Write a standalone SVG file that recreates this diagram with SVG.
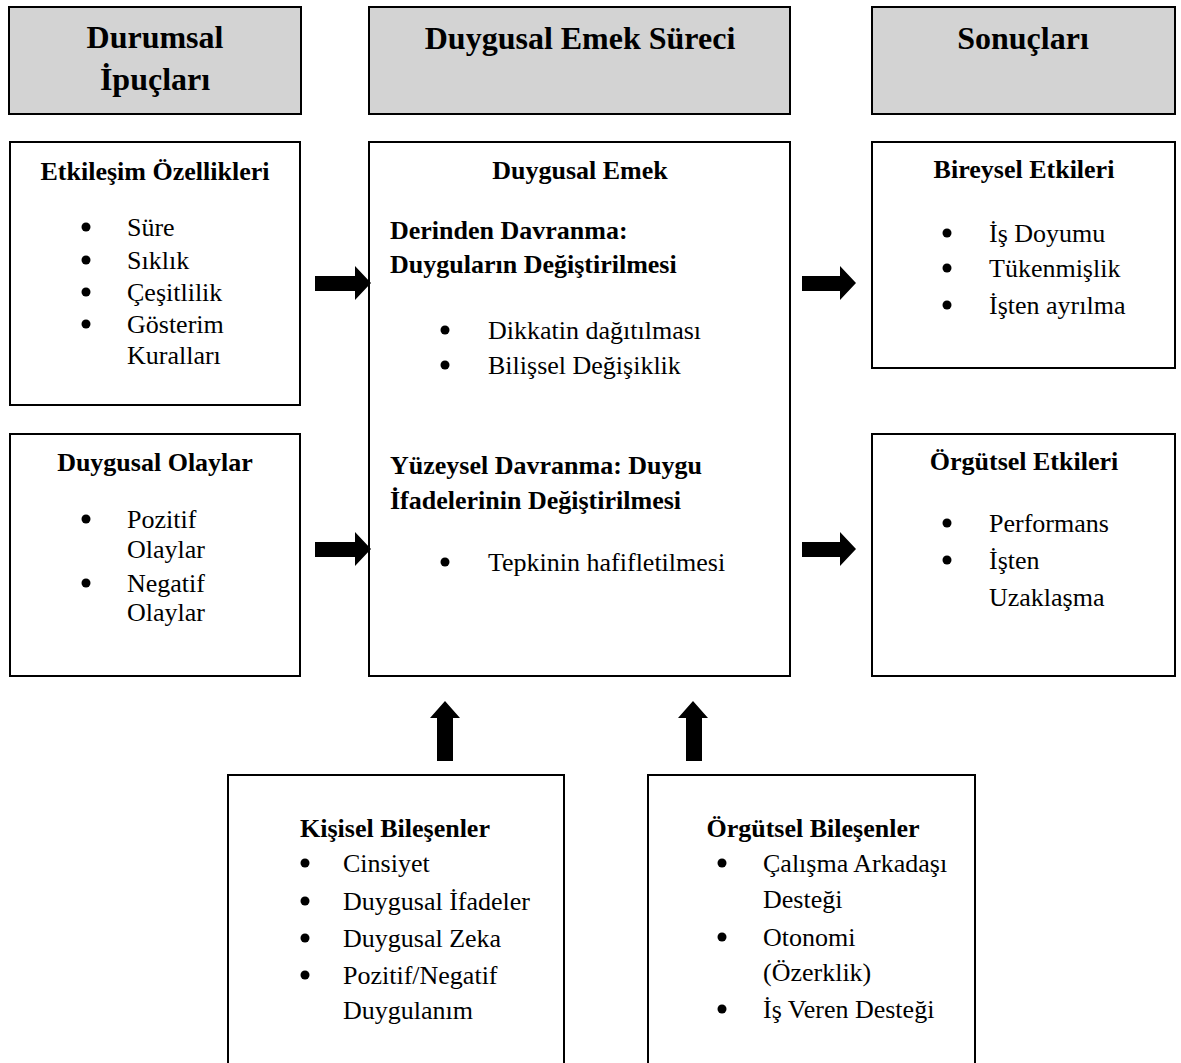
<svg xmlns="http://www.w3.org/2000/svg" width="1181" height="1063" viewBox="0 0 1181 1063">
<style>
text{font-family:"Liberation Serif","Times New Roman",serif;fill:#000}
.t{font-size:32px;font-weight:bold;text-anchor:middle}
.h{font-size:26px;font-weight:bold;text-anchor:middle}
.hs{font-size:26px;font-weight:bold}
.i{font-size:26px}
.hdr{fill:#d3d3d3;stroke:#000;stroke-width:2}
.box{fill:#fff;stroke:#000;stroke-width:2}
.arr{fill:#000}
circle{fill:#000}
</style>
<rect width="1181" height="1063" fill="#fff"/>
<g id="hdr-durumsal">
<rect class="hdr" x="9" y="7" width="292" height="107"/>
<text class="t" x="155" y="48">Durumsal</text>
<text class="t" x="155" y="90">İpuçları</text>
</g>
<g id="hdr-surec">
<rect class="hdr" x="369" y="7" width="421" height="107"/>
<text class="t" x="580" y="49">Duygusal Emek Süreci</text>
</g>
<g id="hdr-sonuc">
<rect class="hdr" x="872" y="7" width="303" height="107"/>
<text class="t" x="1023" y="49">Sonuçları</text>
</g>
<g id="etkilesim">
<rect class="box" x="10" y="142" width="290" height="263"/>
<text class="h" x="155" y="180">Etkileşim Özellikleri</text>
<circle cx="86" cy="227" r="4.5"/><text class="i" x="127" y="236">Süre</text>
<circle cx="86" cy="260" r="4.5"/><text class="i" x="127" y="269">Sıklık</text>
<circle cx="86" cy="292" r="4.5"/><text class="i" x="127" y="301">Çeşitlilik</text>
<circle cx="86" cy="324" r="4.5"/><text class="i" x="127" y="333">Gösterim</text>
<text class="i" x="127" y="364">Kuralları</text>
</g>
<g id="olaylar">
<rect class="box" x="10" y="434" width="290" height="242"/>
<text class="h" x="155" y="471">Duygusal Olaylar</text>
<circle cx="86" cy="519" r="4.5"/><text class="i" x="127" y="528">Pozitif</text>
<text class="i" x="127" y="558">Olaylar</text>
<circle cx="86" cy="583" r="4.5"/><text class="i" x="127" y="592">Negatif</text>
<text class="i" x="127" y="621">Olaylar</text>
</g>
<g id="duygusal-emek">
<rect class="box" x="369" y="142" width="421" height="534"/>
<text class="h" x="580" y="179">Duygusal Emek</text>
<text class="hs" x="390" y="239">Derinden Davranma:</text>
<text class="hs" x="390" y="273">Duyguların Değiştirilmesi</text>
<circle cx="445" cy="330" r="4.5"/><text class="i" x="488" y="339">Dikkatin dağıtılması</text>
<circle cx="445" cy="365" r="4.5"/><text class="i" x="488" y="374">Bilişsel Değişiklik</text>
<text class="hs" x="390" y="474">Yüzeysel Davranma: Duygu</text>
<text class="hs" x="390" y="509">İfadelerinin Değiştirilmesi</text>
<circle cx="445" cy="562" r="4.5"/><text class="i" x="488" y="571">Tepkinin hafifletilmesi</text>
</g>
<g id="bireysel">
<rect class="box" x="872" y="142" width="303" height="226"/>
<text class="h" x="1024" y="178">Bireysel Etkileri</text>
<circle cx="947" cy="233" r="4.5"/><text class="i" x="989" y="242">İş Doyumu</text>
<circle cx="947" cy="268" r="4.5"/><text class="i" x="989" y="277">Tükenmişlik</text>
<circle cx="947" cy="305" r="4.5"/><text class="i" x="989" y="314">İşten ayrılma</text>
</g>
<g id="orgutsel-etki">
<rect class="box" x="872" y="434" width="303" height="242"/>
<text class="h" x="1024" y="470">Örgütsel Etkileri</text>
<circle cx="947" cy="523" r="4.5"/><text class="i" x="989" y="532">Performans</text>
<circle cx="947" cy="560" r="4.5"/><text class="i" x="989" y="569">İşten</text>
<text class="i" x="989" y="606">Uzaklaşma</text>
</g>
<g id="kisisel">
<rect class="box" x="228" y="775" width="336" height="300"/>
<text class="h" x="395" y="837">Kişisel Bileşenler</text>
<circle cx="305" cy="863" r="4.5"/><text class="i" x="343" y="872">Cinsiyet</text>
<circle cx="305" cy="901" r="4.5"/><text class="i" x="343" y="910">Duygusal İfadeler</text>
<circle cx="305" cy="938" r="4.5"/><text class="i" x="343" y="947">Duygusal Zeka</text>
<circle cx="305" cy="975" r="4.5"/><text class="i" x="343" y="984">Pozitif/Negatif</text>
<text class="i" x="343" y="1019">Duygulanım</text>
</g>
<g id="orgutsel-bilesen">
<rect class="box" x="648" y="775" width="327" height="300"/>
<text class="h" x="813" y="837">Örgütsel Bileşenler</text>
<circle cx="722" cy="863" r="4.5"/><text class="i" x="763" y="872">Çalışma Arkadaşı</text>
<text class="i" x="763" y="908">Desteği</text>
<circle cx="722" cy="937" r="4.5"/><text class="i" x="763" y="946">Otonomi</text>
<text class="i" x="763" y="981">(Özerklik)</text>
<circle cx="722" cy="1009" r="4.5"/><text class="i" x="763" y="1018">İş Veren Desteği</text>
</g>
<g id="connectors">
<path class="arr" d="M315 276H355V266L371 283L355 300V291H315Z"/>
<path class="arr" d="M315 542H355V532L371 549L355 566V557H315Z"/>
<path class="arr" d="M802 276H840V266L856 283L840 300V291H802Z"/>
<path class="arr" d="M802 542H840V532L856 549L840 566V557H802Z"/>
<path class="arr" d="M437 761V718H430L445 701L460 718H453V761Z"/>
<path class="arr" d="M686 761V718H678L693 701L708 718H702V761Z"/>
</g>
</svg>
